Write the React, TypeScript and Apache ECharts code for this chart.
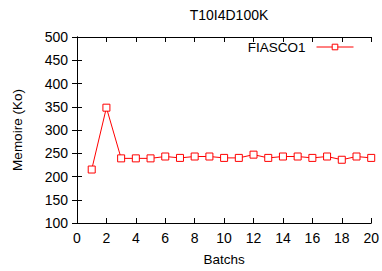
import React, { useEffect, useRef } from "react";
import * as echarts from "echarts";

const batches = [1, 2, 3, 4, 5, 6, 7, 8, 9, 10, 11, 12, 13, 14, 15, 16, 17, 18, 19, 20];
const memory = [215, 348, 239, 239, 239, 243, 240, 243, 243, 240, 240, 247, 240, 243, 243, 240, 243, 236, 243, 240];
const seriesName = "FIASCO1";
const title = "T10I4D100K";
const xLabel = "Batchs";
const yLabel = "Memoire (Ko)";

const FONT = "'Liberation Sans', Arial, Helvetica, sans-serif";
const RED = "#ff0000";

export default function App() {
  const ref = useRef<HTMLDivElement>(null);
  useEffect(() => {
    if (!ref.current) return;
    const chart = echarts.init(ref.current, null, { renderer: "svg" });
    const axisLine = { show: true, lineStyle: { color: "#000", width: 1 } };
    const tick = { show: true, inside: true, length: 5, lineStyle: { color: "#000" } };
    chart.setOption({
      animation: false,
      backgroundColor: "#fff",
      textStyle: { fontFamily: FONT },
      title: {
        text: title,
        left: 224,
        textAlign: "center",
        top: 3,
        textStyle: { fontFamily: FONT, fontSize: 14, fontWeight: "normal", color: "#000" },
      },
      legend: {
        show: true,
        right: 28,
        top: 40,
        padding: 0,
        align: "right",
        itemWidth: 37,
        itemHeight: 7,
        itemStyle: { color: "#fff", borderColor: RED, borderWidth: 1 },
        lineStyle: { color: RED, width: 1 },
        textStyle: { fontFamily: FONT, fontSize: 13.5, color: "#000", padding: [0, 6, 0, 0] },
        data: [seriesName],
      },
      grid: { left: 77, right: 10, top: 37, bottom: 47, containLabel: false },
      xAxis: [
        {
          type: "value",
          min: 0,
          max: 20,
          interval: 2,
          name: xLabel,
          nameLocation: "middle",
          nameGap: 29,
          nameTextStyle: { fontFamily: FONT, fontSize: 13.5, color: "#000" },
          axisLine,
          axisTick: tick,
          axisLabel: { fontFamily: FONT, fontSize: 14, color: "#000", margin: 8 },
          splitLine: { show: false },
        },
        {
          type: "value",
          position: "top",
          min: 0,
          max: 20,
          interval: 2,
          axisLine,
          axisTick: tick,
          axisLabel: { show: false },
          splitLine: { show: false },
        },
      ],
      yAxis: [
        {
          type: "value",
          min: 100,
          max: 500,
          interval: 50,
          name: yLabel,
          nameLocation: "middle",
          nameGap: 53,
          nameTextStyle: { fontFamily: FONT, fontSize: 13.5, color: "#000" },
          axisLine,
          axisTick: tick,
          axisLabel: { fontFamily: FONT, fontSize: 14, color: "#000", margin: 9 },
          splitLine: { show: false },
        },
        {
          type: "value",
          position: "right",
          min: 100,
          max: 500,
          interval: 50,
          axisLine,
          axisTick: tick,
          axisLabel: { show: false },
          splitLine: { show: false },
        },
      ],
      series: [
        {
          name: seriesName,
          type: "line",
          data: batches.map((b, i) => [b, memory[i]]),
          symbol: "rect",
          symbolSize: 7,
          lineStyle: { color: RED, width: 1 },
          itemStyle: { color: "#fff", borderColor: RED, borderWidth: 1 },
          emphasis: { disabled: true },
        },
      ],
    });
    return () => chart.dispose();
  }, []);
  return <div ref={ref} style={{ width: 382, height: 271, position: "absolute", left: 0, top: 0 }} />;
}
